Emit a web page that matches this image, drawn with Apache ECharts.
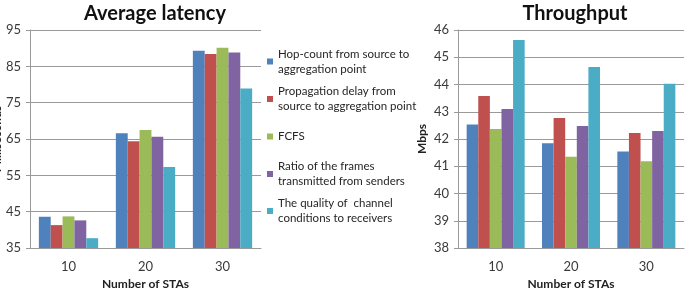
<!DOCTYPE html>
<html>
<head>
<meta charset="utf-8">
<script src="https://cdn.jsdelivr.net/npm/echarts@6/dist/echarts.min.js"></script>
<style>
  html, body { margin: 0; padding: 0; background: #fff; }
  #chart { width: 686px; height: 292px; }
</style>
</head>
<body>
<div id="chart"></div>
<script>
'use strict';

// x categories (number of STAs)
var categories = ['10', '20', '30'];

// series names and the way the legend wraps them
var seriesNames = [
   'Hop-count from source to aggregation point',
   'Propagation delay from source to aggregation point',
   'FCFS',
   'Ratio of the frames transmitted from senders',
   'The quality of  channel conditions to receivers'
];
var legendLabels = [
   'Hop-count from source to\naggregation point',
   'Propagation delay from\nsource to aggregation point',
   'FCFS',
   'Ratio of the frames\ntransmitted from senders',
   'The quality of  channel\nconditions to receivers'
];
var colors = ['#4F81BD', '#C0504D', '#9BBB59', '#8064A2', '#4BACC6'];

// Average latency (milliseconds)
var latencyHop = [43.6, 66.6, 89.3];
var latencyProp = [41.3, 64.4, 88.4];
var latencyFcfs = [43.7, 67.5, 90.1];
var latencyRatio = [42.6, 65.6, 88.8];
var latencyQuality = [37.7, 57.3, 78.9];

// Throughput (Mbps)
var thrHop = [42.53, 41.84, 41.54];
var thrProp = [43.58, 42.77, 42.22];
var thrFcfs = [42.37, 41.35, 41.18];
var thrRatio = [43.10, 42.48, 42.29];
var thrQuality = [45.63, 44.64, 44.03];

var latencyData = [latencyHop, latencyProp, latencyFcfs, latencyRatio, latencyQuality];
var thrData = [thrHop, thrProp, thrFcfs, thrRatio, thrQuality];

var font = 'Lato, "Open Sans", sans-serif';
var gridColor = '#9a9a9a';
var textColor = '#3a3a3a';

var myChart = echarts.init(document.getElementById('chart'));

function makeX(gridIndex) {
   return {
      type: 'category',
      gridIndex: gridIndex,
      data: categories,
      name: 'Number of STAs',
      nameLocation: 'middle',
      nameGap: 30,
      nameMoveOverlap: false,
      nameTextStyle: { fontFamily: font, fontWeight: 'bold', fontSize: 12, color: '#222' },
      axisLine: { lineStyle: { color: gridColor, width: 1 } },
      axisTick: { show: false },
      axisLabel: { fontFamily: font, fontSize: 13, color: textColor, margin: 12 }
   };
}

function makeY(gridIndex, min, max, step, name, gap) {
   return {
      type: 'value',
      gridIndex: gridIndex,
      min: min,
      max: max,
      interval: step,
      name: name,
      nameLocation: 'middle',
      nameGap: gap,
      nameRotate: 90,
      nameMoveOverlap: false,
      nameTextStyle: { fontFamily: font, fontWeight: 'bold', fontSize: 12, color: '#222' },
      axisLine: { show: true, lineStyle: { color: gridColor, width: 1 } },
      axisTick: { show: true, length: 4, lineStyle: { color: gridColor } },
      axisLabel: { fontFamily: font, fontSize: 13, color: textColor, margin: 9 },
      splitLine: { show: true, lineStyle: { color: gridColor, width: 1 } }
   };
}

var series = [];
seriesNames.forEach(function (name, i) {
   series.push({
      name: name, type: 'bar', xAxisIndex: 0, yAxisIndex: 0,
      data: latencyData[i], itemStyle: { color: colors[i] },
      barGap: '0%', barCategoryGap: '23%'
   });
});
seriesNames.forEach(function (name, i) {
   series.push({
      name: name, type: 'bar', xAxisIndex: 1, yAxisIndex: 1,
      data: thrData[i], itemStyle: { color: colors[i] },
      barGap: '0%', barCategoryGap: '23%'
   });
});

// one legend block per entry, to keep the square on the first line
var legendTops = [39, 76.5, 129, 151.5, 188.5];
var legends = seriesNames.map(function (name, i) {
   var twoLines = legendLabels[i].indexOf('\n') >= 0;
   return {
      left: 267,
      top: legendTops[i],
      orient: 'vertical',
      padding: 0,
      icon: 'rect',
      itemWidth: 6,
      itemHeight: 6,
      formatter: legendLabels[i],
      textStyle: { fontFamily: font, fontSize: 11.5, color: '#262626', lineHeight: 15 },
      data: [{ name: name, textStyle: twoLines ? { padding: [15, 0, 0, 0] } : {} }]
   };
});

var option = {
   animation: false,
   color: colors,
   title: [
      { text: 'Average latency', left: 155, top: 4, padding: 0, textAlign: 'center',
        textStyle: { fontFamily: font, fontWeight: 'bold', fontSize: 20, color: '#111' } },
      { text: 'Throughput', left: 575, top: 4, padding: 0, textAlign: 'center',
        textStyle: { fontFamily: font, fontWeight: 'bold', fontSize: 20, color: '#111' } }
   ],
   legend: legends,
   grid: [
      { left: 30, right: 425, top: 30, bottom: 44, outerBoundsMode: 'none' },
      { left: 458, right: 2, top: 30, bottom: 44, outerBoundsMode: 'none' }
   ],
   xAxis: [makeX(0), makeX(1)],
   yAxis: [makeY(0, 35, 95, 10, 'Milliseconds', 27), makeY(1, 38, 46, 1, 'Mbps', 30)],
   series: series
};

myChart.setOption(option);
</script>
</body>
</html>
